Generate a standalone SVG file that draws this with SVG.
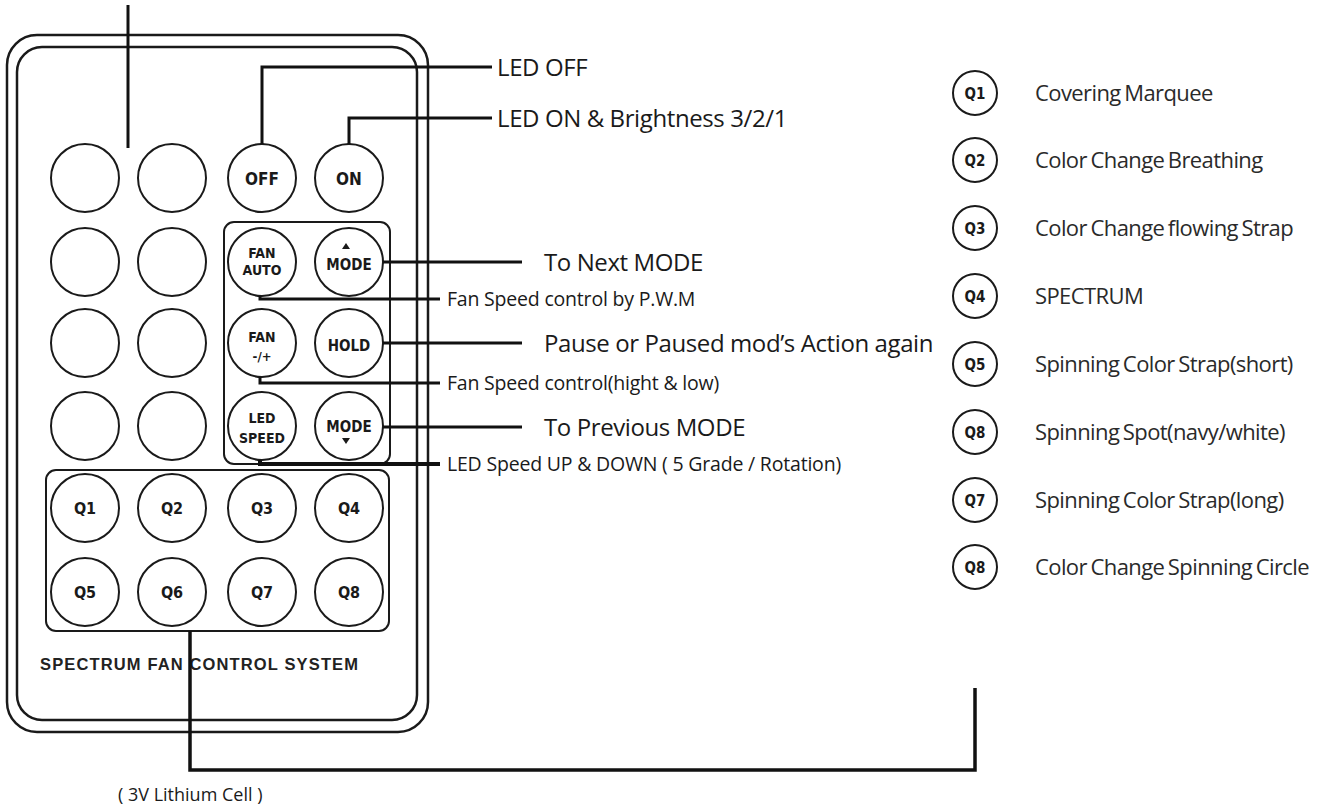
<svg xmlns="http://www.w3.org/2000/svg" width="1333" height="808" viewBox="0 0 1333 808">
<style>
.frame{fill:none;stroke:#1a1a1a;stroke-width:2.5}
.grp{fill:none;stroke:#1a1a1a;stroke-width:2}
.btn{fill:#fff;stroke:#1a1a1a;stroke-width:2}
.conn{fill:none;stroke:#111;stroke-width:3}
.bl{font-family:"DejaVu Sans Condensed","DejaVu Sans",sans-serif;font-stretch:condensed;font-weight:bold;fill:#1a1a1a;text-anchor:middle}
.lbl{font-family:"Open Sans",sans-serif;fill:#1a1a1a}
.big{font-size:24px;letter-spacing:-0.4px}
.sm{font-size:19.5px;letter-spacing:-0.2px}
.rl{font-family:"Open Sans",sans-serif;fill:#2a2a2a;font-size:22px;letter-spacing:-0.6px;word-spacing:-1.5px}
.tri{fill:#1a1a1a}
</style>
<rect width="1333" height="808" fill="#fff"/>

<g id="remote">
<rect class="frame" x="7" y="35" width="421" height="697" rx="30"/>
<rect class="frame" x="17" y="47" width="400" height="673" rx="25"/>
<rect class="grp" x="224" y="222" width="166" height="242" rx="10"/>
<rect class="grp" x="46" y="470" width="343" height="161" rx="10"/>
<text x="40" y="670" style="font-family:'Liberation Sans',Arial,sans-serif;font-weight:bold;font-size:16.5px;fill:#222" textLength="318" lengthAdjust="spacing">SPECTRUM FAN CONTROL SYSTEM</text>
</g>

<g id="blank-buttons">
<circle class="btn" cx="85" cy="178" r="34"/><circle class="btn" cx="172" cy="178" r="34"/>
<circle class="btn" cx="85" cy="262" r="34"/><circle class="btn" cx="172" cy="262" r="34"/>
<circle class="btn" cx="85" cy="343" r="34"/><circle class="btn" cx="172" cy="343" r="34"/>
<circle class="btn" cx="85" cy="426" r="34"/><circle class="btn" cx="172" cy="426" r="34"/>
</g>
<g id="btn-off"><circle class="btn" cx="262" cy="178" r="34"/><text class="bl" x="262" y="185" font-size="17">OFF</text></g>
<g id="btn-on"><circle class="btn" cx="349" cy="178" r="34"/><text class="bl" x="349" y="185" font-size="17">ON</text></g>
<g id="btn-fan-auto"><circle class="btn" cx="262" cy="262" r="34"/><text class="bl" x="262" y="258" font-size="14">FAN</text><text class="bl" x="262" y="275" font-size="14">AUTO</text></g>
<g id="btn-mode-up"><circle class="btn" cx="349" cy="262" r="34"/><polygon class="tri" points="346,243 342,249 350,249"/><text class="bl" x="349" y="270" font-size="15">MODE</text></g>
<g id="btn-fan-pm"><circle class="btn" cx="262" cy="343" r="34"/><text class="bl" x="262" y="342" font-size="14">FAN</text><text class="bl" x="262" y="361" font-size="13">-/+</text></g>
<g id="btn-hold"><circle class="btn" cx="349" cy="343" r="34"/><text class="bl" x="349" y="351" font-size="15">HOLD</text></g>
<g id="btn-led-speed"><circle class="btn" cx="262" cy="426" r="34"/><text class="bl" x="262" y="423" font-size="14">LED</text><text class="bl" x="262" y="443" font-size="14">SPEED</text></g>
<g id="btn-mode-down"><circle class="btn" cx="349" cy="426" r="34"/><text class="bl" x="349" y="432" font-size="15">MODE</text><polygon class="tri" points="346,444 342,438 350,438"/></g>

<g id="q-buttons">
<circle class="btn" cx="85" cy="508" r="34"/><text class="bl" x="85" y="514" font-size="16">Q1</text>
<circle class="btn" cx="172" cy="508" r="34"/><text class="bl" x="172" y="514" font-size="16">Q2</text>
<circle class="btn" cx="262" cy="508" r="34"/><text class="bl" x="262" y="514" font-size="16">Q3</text>
<circle class="btn" cx="349" cy="508" r="34"/><text class="bl" x="349" y="514" font-size="16">Q4</text>
<circle class="btn" cx="85" cy="592" r="34"/><text class="bl" x="85" y="598" font-size="16">Q5</text>
<circle class="btn" cx="172" cy="592" r="34"/><text class="bl" x="172" y="598" font-size="16">Q6</text>
<circle class="btn" cx="262" cy="592" r="34"/><text class="bl" x="262" y="598" font-size="16">Q7</text>
<circle class="btn" cx="349" cy="592" r="34"/><text class="bl" x="349" y="598" font-size="16">Q8</text>
</g>

<g id="connectors">
<path class="conn" d="M128,5 V148"/>
<path class="conn" d="M262,144 V67 H492"/>
<path class="conn" d="M349,144 V118 H492"/>
<path class="conn" d="M383,262 H522"/>
<path class="conn" d="M260,296 V299 H440"/>
<path class="conn" d="M383,343 H522"/>
<path class="conn" d="M260,377 V383 H440"/>
<path class="conn" d="M383,427 H522"/>
<path class="conn" style="stroke-width:4" d="M260,460 V464 H440"/>
<path class="conn" style="stroke-width:3.5" d="M190,631 V770 H975 V688"/>
</g>

<g id="labels">
<text class="lbl big" x="497" y="76">LED OFF</text>
<text class="lbl big" x="497" y="127">LED ON &amp; Brightness 3/2/1</text>
<text class="lbl big" x="544" y="271">To Next MODE</text>
<text class="lbl sm" x="447" y="306">Fan Speed control by P.W.M</text>
<text class="lbl big" x="544" y="352">Pause or Paused mod’s Action again</text>
<text class="lbl sm" x="447" y="390">Fan Speed control(hight &amp; low)</text>
<text class="lbl big" x="544" y="436">To Previous MODE</text>
<text class="lbl sm" x="447" y="471">LED Speed UP &amp; DOWN ( 5 Grade / Rotation)</text>
<text class="lbl" x="118" y="801" font-size="18">( 3V Lithium Cell )</text>
</g>

<g id="legend">
<circle class="btn" cx="975" cy="93" r="22"/><text class="bl" x="975" y="99" font-size="15">Q1</text><text class="rl" x="1035" y="101">Covering Marquee</text>
<circle class="btn" cx="975" cy="160" r="22"/><text class="bl" x="975" y="166" font-size="15">Q2</text><text class="rl" x="1035" y="168">Color Change Breathing</text>
<circle class="btn" cx="975" cy="228" r="22"/><text class="bl" x="975" y="234" font-size="15">Q3</text><text class="rl" x="1035" y="236">Color Change flowing Strap</text>
<circle class="btn" cx="975" cy="296" r="22"/><text class="bl" x="975" y="302" font-size="15">Q4</text><text class="rl" x="1035" y="304">SPECTRUM</text>
<circle class="btn" cx="975" cy="364" r="22"/><text class="bl" x="975" y="370" font-size="15">Q5</text><text class="rl" x="1035" y="372">Spinning Color Strap(short)</text>
<circle class="btn" cx="975" cy="432" r="22"/><text class="bl" x="975" y="438" font-size="15">Q8</text><text class="rl" x="1035" y="440">Spinning Spot(navy/white)</text>
<circle class="btn" cx="975" cy="500" r="22"/><text class="bl" x="975" y="506" font-size="15">Q7</text><text class="rl" x="1035" y="508">Spinning Color Strap(long)</text>
<circle class="btn" cx="975" cy="567" r="22"/><text class="bl" x="975" y="573" font-size="15">Q8</text><text class="rl" x="1035" y="575">Color Change Spinning Circle</text>
</g>
</svg>
